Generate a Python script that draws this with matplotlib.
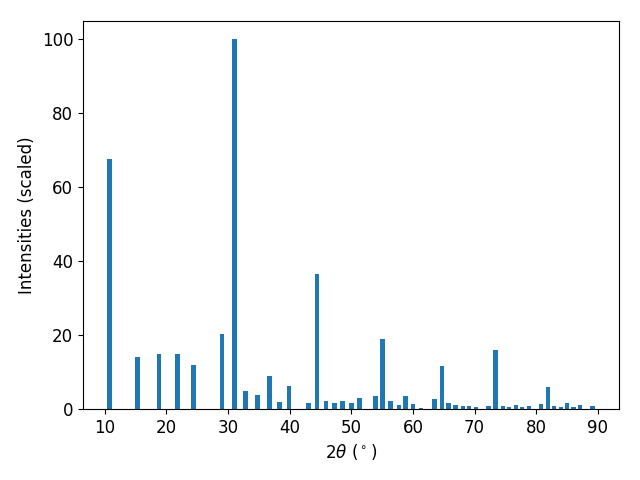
import numpy as np
import matplotlib
matplotlib.use('Agg')
import matplotlib.pyplot as plt

two_theta = [10.78, 15.3, 18.8, 21.8, 24.4, 29.0, 31.0, 32.8, 34.8, 36.7,
             38.3, 39.9, 43.0, 44.4, 45.9, 47.3, 48.6, 50.0, 51.3, 53.9,
             55.1, 56.4, 57.7, 58.8, 60.0, 61.3, 63.5, 64.7, 65.8, 66.9,
             68.1, 69.1, 70.2, 72.3, 73.4, 74.6, 75.6, 76.7, 77.7, 78.8,
             80.8, 81.9, 82.9, 84.0, 85.0, 86.0, 87.1, 89.1]
intensity = [67.7, 14.1, 14.9, 14.9, 11.9, 20.3, 100.0, 4.9, 3.8, 8.9,
             1.9, 6.2, 1.6, 36.5, 2.2, 1.6, 2.1, 1.6, 3.0, 3.5,
             19.0, 2.1, 1.1, 3.5, 1.4, 0.3, 2.7, 11.7, 1.6, 1.1,
             0.8, 0.8, 0.5, 0.8, 16.0, 0.8, 0.5, 1.1, 0.5, 0.8,
             1.4, 5.9, 0.8, 0.5, 1.6, 0.5, 1.1, 0.8]

plt.rcParams['font.size'] = 12
fig, ax = plt.subplots(figsize=(6.4, 4.8), dpi=100)
ax.bar(two_theta, intensity, width=0.75, color='#1f77b4')
ax.set_xlabel(r'$2\theta$ ($^\circ$)')
ax.set_ylabel('Intensities (scaled)')
fig.subplots_adjust(left=83/640, right=619/640, top=1-21/480, bottom=1-409/480)
fig.savefig('out.png')
